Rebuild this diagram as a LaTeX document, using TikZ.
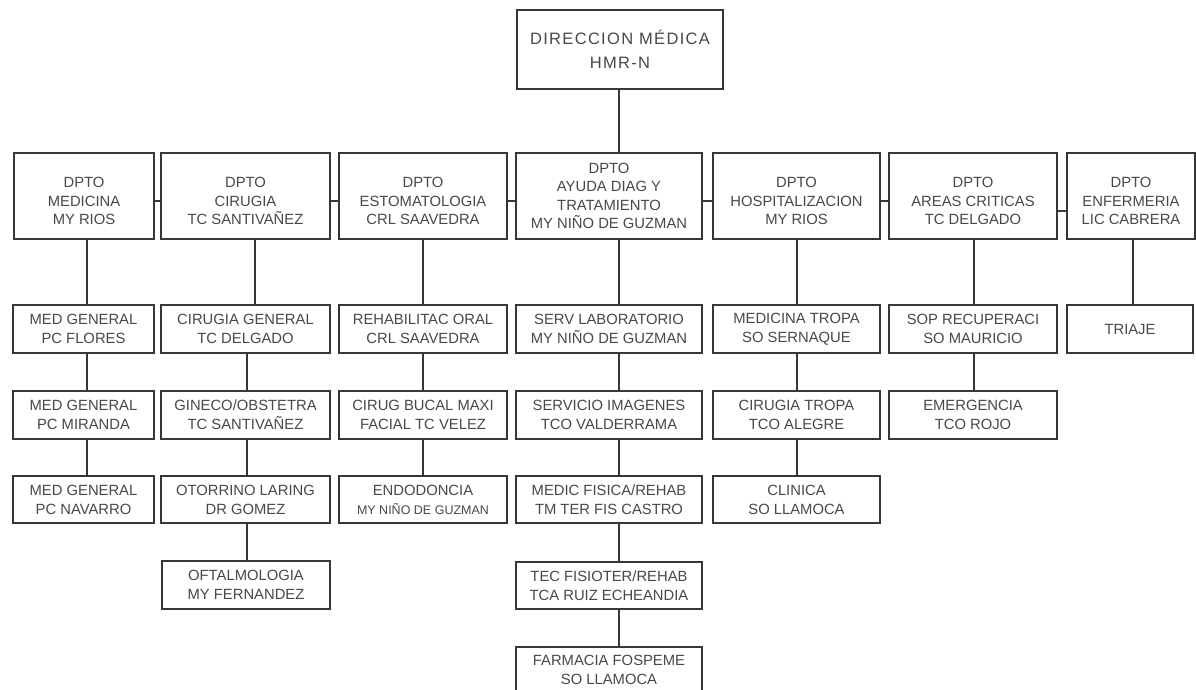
\documentclass[tikz,border=0pt]{standalone}
\usepackage{fontspec}
\setmainfont{Liberation Sans}
\newfontfamily\topfont[LetterSpace=8]{Liberation Sans}
\definecolor{txtc}{RGB}{72,72,72}
\definecolor{linec}{RGB}{55,55,55}
\newcommand\obox[6]{\node[bx, minimum width={(#4-#2)*1pt}, minimum height={(#5-#3)*1pt}] (#1) at ({(#2+#4)/2},{(#3+#5)/2}) {#6};}
\newcommand\dnst{\rule{0pt}{21pt}}
\newcommand\tf{\topfont\fontsize{16.5}{19}\selectfont}
\begin{document}
\begin{tikzpicture}[x=1pt,y=-1pt,
  bx/.style={draw=linec, line width=1.4pt, fill=white, inner sep=0pt, align=center, text=txtc,
    font=\fontsize{14.8}{19}\selectfont},
  dept/.style={font=\fontsize{14.8}{18.5}\selectfont},
  conn/.style={draw=linec, line width=1.4pt}]
\useasboundingbox (0,0) rectangle (1196,690);
\clip (0,0) rectangle (1196,690);
% top
\obox{top}{517}{10}{723}{89}{\tf DIRECCION MÉDICA\\[5pt]\tf HMR-N}
% departments
\tikzset{bx/.append style={dept}}
\obox{d1}{14}{153}{154}{239}{\dnst DPTO\\MEDICINA\\MY RIOS}
\obox{d2}{161}{153}{330}{239}{\dnst DPTO\\CIRUGIA\\TC SANTIVAÑEZ}
\obox{d3}{339}{153}{507}{239}{\dnst DPTO\\ESTOMATOLOGIA\\CRL SAAVEDRA}
\obox{d4}{516}{153}{702}{239}{DPTO\\AYUDA DIAG Y\\TRATAMIENTO\\MY NIÑO DE GUZMAN}
\obox{d5}{713}{153}{880}{239}{\dnst DPTO\\HOSPITALIZACION\\MY RIOS}
\obox{d6}{889}{153}{1057}{239}{\dnst DPTO\\AREAS CRITICAS\\TC DELGADO}
\obox{d7}{1067}{153}{1195}{239}{\dnst DPTO\\ENFERMERIA\\LIC CABRERA}
\tikzset{bx/.append style={font=\fontsize{14.8}{19}\selectfont}}
% column 1
\obox{c11}{13}{305}{154}{353}{MED GENERAL\\PC FLORES}
\obox{c12}{13}{391}{154}{439}{MED GENERAL\\PC MIRANDA}
\obox{c13}{13}{476}{154}{523}{MED GENERAL\\PC NAVARRO}
% column 2
\obox{c21}{161}{305}{330}{353}{CIRUGIA GENERAL\\TC DELGADO}
\obox{c22}{161}{391}{330}{439}{GINECO/OBSTETRA\\TC SANTIVAÑEZ}
\obox{c23}{161}{476}{330}{523}{OTORRINO LARING\\DR GOMEZ}
\obox{c24}{162}{561}{330}{609}{OFTALMOLOGIA\\MY FERNANDEZ}
% column 3
\obox{c31}{339}{305}{507}{353}{REHABILITAC ORAL\\CRL SAAVEDRA}
\obox{c32}{339}{391}{507}{439}{CIRUG BUCAL MAXI\\FACIAL TC VELEZ}
\obox{c33}{339}{476}{507}{523}{ENDODONCIA\\{\fontsize{12.5}{19}\selectfont MY NIÑO DE GUZMAN}}
% column 4
\obox{c41}{516}{305}{702}{353}{SERV LABORATORIO\\MY NIÑO DE GUZMAN}
\obox{c42}{516}{391}{702}{439}{SERVICIO IMAGENES\\TCO VALDERRAMA}
\obox{c43}{516}{476}{702}{523}{MEDIC FISICA/REHAB\\TM TER FIS CASTRO}
\obox{c44}{516}{562}{702}{609}{TEC FISIOTER/REHAB\\TCA RUIZ ECHEANDIA}
\obox{c45}{516}{647}{702}{693}{FARMACIA FOSPEME\\SO LLAMOCA}
% column 5
\obox{c51}{713}{305}{880}{353}{MEDICINA TROPA\\SO SERNAQUE}
\obox{c52}{713}{391}{880}{439}{CIRUGIA TROPA\\TCO ALEGRE}
\obox{c53}{713}{476}{880}{523}{CLINICA\\SO LLAMOCA}
% column 6
\obox{c61}{889}{305}{1057}{353}{SOP RECUPERACI\\SO MAURICIO}
\obox{c62}{889}{391}{1057}{439}{EMERGENCIA\\TCO ROJO}
% column 7
\obox{c71}{1067}{305}{1193}{353}{TRIAJE}
% connector x positions
\coordinate (x1) at (87,0);
\coordinate (x2a) at (255,0);
\coordinate (x2) at (247,0);
\coordinate (x3) at (423,0);
\coordinate (x4) at (619,0);
\coordinate (x5) at (797,0);
\coordinate (x6) at (974,0);
\coordinate (x7) at (1133,0);
\coordinate (ya) at (0,201);
\coordinate (yb) at (0,211);
% top to departments
\path[conn] (top.south -| x4) -- (d4.north -| x4);
% horizontal links between departments
\path[conn] (d1.east |- ya) -- (d2.west |- ya);
\path[conn] (d2.east |- ya) -- (d3.west |- ya);
\path[conn] (d3.east |- ya) -- (d4.west |- ya);
\path[conn] (d4.east |- ya) -- (d5.west |- ya);
\path[conn] (d5.east |- ya) -- (d6.west |- ya);
\path[conn] (d6.east |- yb) -- (d7.west |- yb);
% vertical chains
\path[conn] (d1.south -| x1) -- (c11.north -| x1);
\path[conn] (c11.south -| x1) -- (c12.north -| x1);
\path[conn] (c12.south -| x1) -- (c13.north -| x1);
\path[conn] (d2.south -| x2a) -- (c21.north -| x2a);
\path[conn] (c21.south -| x2) -- (c22.north -| x2);
\path[conn] (c22.south -| x2) -- (c23.north -| x2);
\path[conn] (c23.south -| x2) -- (c24.north -| x2);
\path[conn] (d3.south -| x3) -- (c31.north -| x3);
\path[conn] (c31.south -| x3) -- (c32.north -| x3);
\path[conn] (c32.south -| x3) -- (c33.north -| x3);
\path[conn] (d4.south -| x4) -- (c41.north -| x4);
\path[conn] (c41.south -| x4) -- (c42.north -| x4);
\path[conn] (c42.south -| x4) -- (c43.north -| x4);
\path[conn] (c43.south -| x4) -- (c44.north -| x4);
\path[conn] (c44.south -| x4) -- (c45.north -| x4);
\path[conn] (d5.south -| x5) -- (c51.north -| x5);
\path[conn] (c51.south -| x5) -- (c52.north -| x5);
\path[conn] (c52.south -| x5) -- (c53.north -| x5);
\path[conn] (d6.south -| x6) -- (c61.north -| x6);
\path[conn] (c61.south -| x6) -- (c62.north -| x6);
\path[conn] (d7.south -| x7) -- (c71.north -| x7);
\end{tikzpicture}
\end{document}
